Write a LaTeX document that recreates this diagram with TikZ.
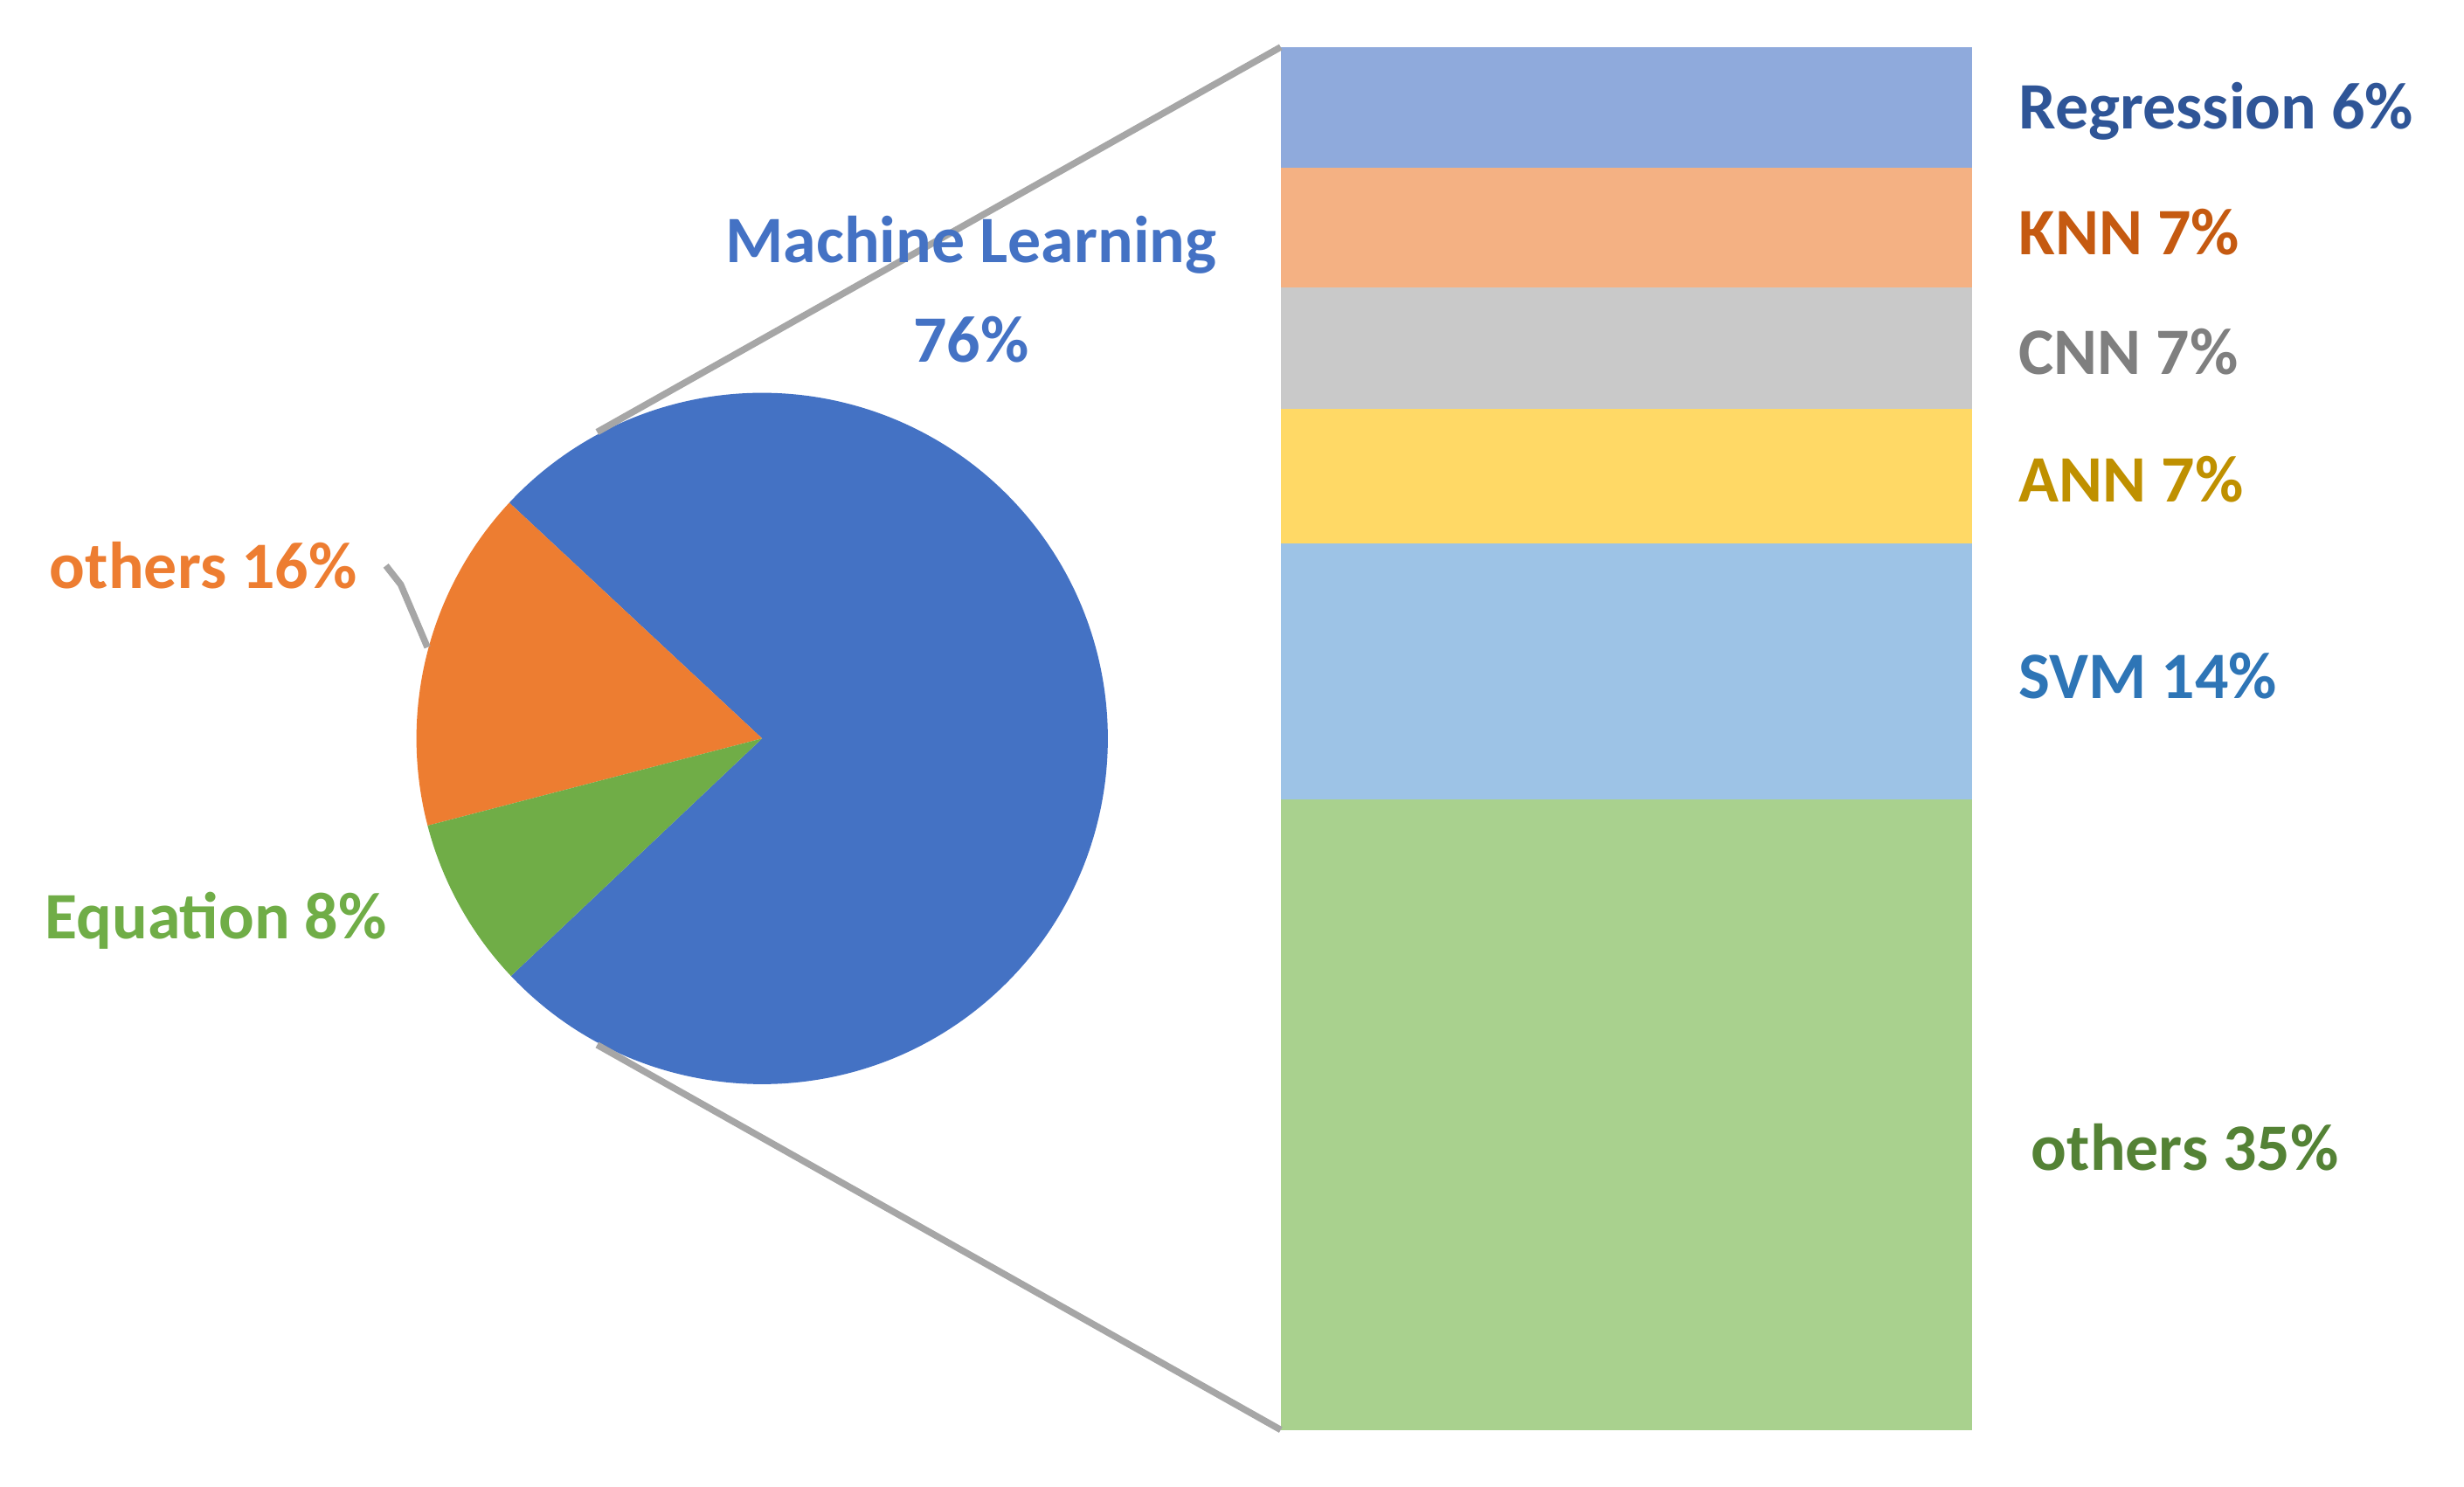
\documentclass[tikz,border=0pt]{standalone}
\usepackage{fontspec}
\setmainfont{Carlito}
\usetikzlibrary{positioning}
\definecolor{mlblue}{HTML}{4472C4}
\definecolor{othorange}{HTML}{ED7D31}
\definecolor{eqgreen}{HTML}{70AD47}
\definecolor{barreg}{HTML}{8FAADC}
\definecolor{barknn}{HTML}{F4B183}
\definecolor{barcnn}{HTML}{C9C9C9}
\definecolor{barann}{HTML}{FFD966}
\definecolor{barsvm}{HTML}{9DC3E6}
\definecolor{baroth}{HTML}{A9D18E}
\definecolor{txreg}{HTML}{2F5597}
\definecolor{txknn}{HTML}{C55A11}
\definecolor{txcnn}{HTML}{7F7F7F}
\definecolor{txann}{HTML}{BF9000}
\definecolor{txsvm}{HTML}{2E75B6}
\definecolor{txoth}{HTML}{548235}
\begin{document}
\begin{tikzpicture}[x=0.01cm, y=0.01cm,
  lbl/.style={font=\fontsize{12}{14}\selectfont\bfseries, inner sep=0pt},
  seg/.style={draw=none},
  zoomline/.style={draw=black!35, line width=1.2pt}]
  \useasboundingbox (0,0) rectangle (1568,946);
  % Pie
  \coordinate (c) at (485,476);
  \fill[mlblue] (c) -- ++(223.4:220) arc (223.4:497:220) -- cycle;
  \fill[othorange] (c) -- ++(137:220) arc (137:194.6:220) -- cycle;
  \fill[eqgreen] (c) -- ++(194.6:220) arc (194.6:223.4:220) -- cycle;
  % Bar
  \fill[barreg] (815,839) rectangle (1255,916);
  \fill[barknn] (815,763) rectangle (1255,839);
  \fill[barcnn] (815,686) rectangle (1255,763);
  \fill[barann] (815,600) rectangle (1255,686);
  \fill[barsvm] (815,437) rectangle (1255,600);
  \fill[baroth] (815,36) rectangle (1255,437);
  % Zoom lines
  \coordinate (pt) at (380,671);
  \coordinate (pb) at (380,281);
  \coordinate (bt) at (815,916);
  \coordinate (bb) at (815,36);
  \draw[zoomline] (pt) -- (bt);
  \draw[zoomline] (pb) -- (bb);
  % Labels
  \node[lbl, text=mlblue, align=center] (ml) at (618,762) {Machine Learning\\[4pt]76\%};
  \node[lbl, text=othorange, anchor=east] (oth) at (228,586) {others 16\%};
  \coordinate (lead) at (255,574);
  \coordinate (slice) at (272,534);
  \draw[zoomline] (oth.east) ++(5pt,0) -- (lead) -- (slice);
  \node[lbl, text=eqgreen, anchor=west] (eq) at (28,360) {Equation 8\%};
  \node[lbl, text=txreg, anchor=west] (reg) at (1284,875) {Regression 6\%};
  \node[lbl, text=txknn, anchor=west] (knn) at (1284,798) {KNN 7\%};
  \node[lbl, text=txcnn, anchor=west] (cnn) at (1284,722) {CNN 7\%};
  \node[lbl, text=txann, anchor=west] (ann) at (1284,641) {ANN 7\%};
  \node[lbl, text=txsvm, anchor=west] (svm) at (1284,516) {SVM 14\%};
  \node[lbl, text=txoth, anchor=west] (oth2) at (1292,216) {others 35\%};
\end{tikzpicture}
\end{document}
